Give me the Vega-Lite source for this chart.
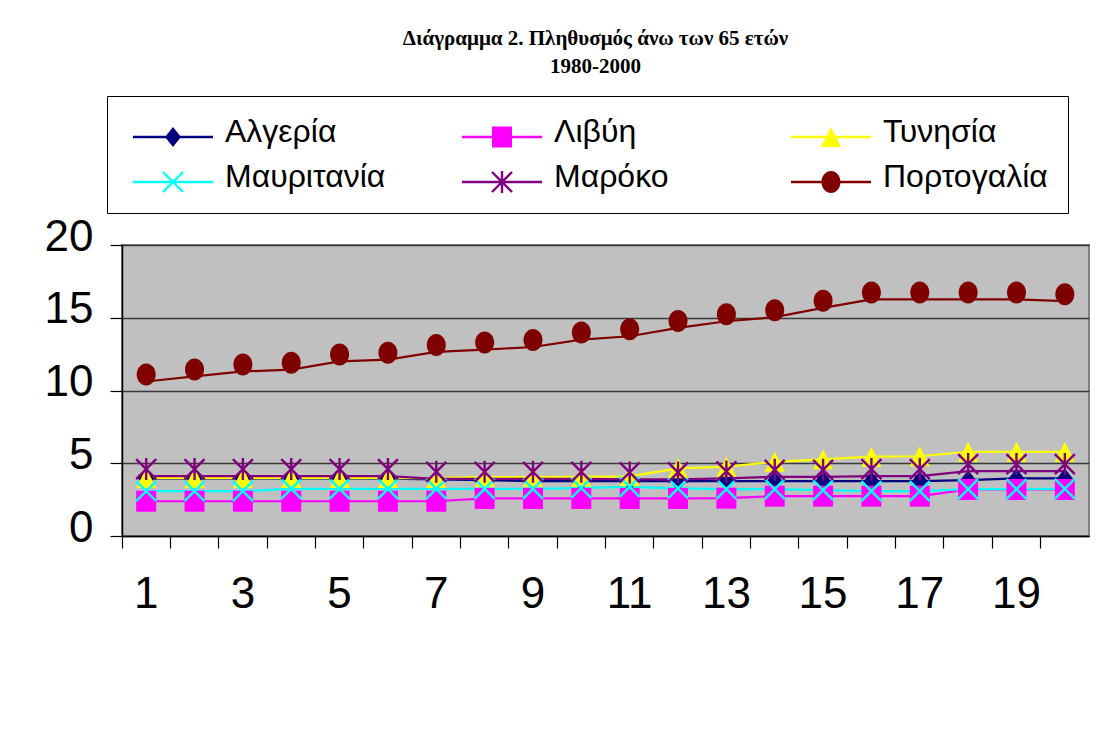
{
  "$schema": "https://vega.github.io/schema/vega-lite/v6.json",
  "autosize": {"type": "none"},
  "width": 967,
  "height": 291,
  "padding": {"left": 122, "top": 245, "right": 17, "bottom": 208},
  "background": "white",
  "title": {
    "text": ["Διάγραμμα 2. Πληθυσμός άνω των 65 ετών", "1980-2000"],
    "font": "Liberation Serif",
    "fontSize": 21,
    "fontWeight": "bold",
    "color": "#000000",
    "anchor": "middle",
    "frame": "group",
    "baseline": "alphabetic",
    "lineHeight": 28,
    "offset": 22,
    "dx": -10,
    "dy": 20
  },
  "config": {
    "view": {"fill": "#C0C0C0", "stroke": "#808080", "strokeWidth": 2},
    "axis": {
      "labelFont": "Liberation Sans",
      "labelFontSize": 44,
      "labelColor": "#000000",
      "domainColor": "#000000",
      "domainWidth": 1.5,
      "tickColor": "#000000",
      "tickWidth": 1.2,
      "tickSize": 12,
      "title": null
    },
    "legend": {
      "title": null,
      "orient": "none",
      "legendX": -15,
      "legendY": -149,
      "direction": "horizontal",
      "columns": 3,
      "gridAlign": "all",
      "columnPadding": 66,
      "rowPadding": 13,
      "padding": 20,
      "strokeColor": "#000000",
      "fillColor": "#FFFFFF",
      "labelFont": "Liberation Sans",
      "labelFontSize": 32,
      "labelColor": "#000000",
      "labelOffset": 66,
      "labelLimit": 400,
      "symbolSize": 400,
      "symbolStrokeWidth": 0,
      "symbolOpacity": 1
    }
  },
  "resolve": {"scale": {"shape": "independent", "color": "independent"}},
  "data": {
    "values": [
      {"t": 1, "c": "Αλγερία", "v": 3.95}, {"t": 2, "c": "Αλγερία", "v": 3.95}, {"t": 3, "c": "Αλγερία", "v": 3.95}, {"t": 4, "c": "Αλγερία", "v": 3.95}, {"t": 5, "c": "Αλγερία", "v": 3.95},
      {"t": 6, "c": "Αλγερία", "v": 3.95}, {"t": 7, "c": "Αλγερία", "v": 3.89}, {"t": 8, "c": "Αλγερία", "v": 3.84}, {"t": 9, "c": "Αλγερία", "v": 3.77}, {"t": 10, "c": "Αλγερία", "v": 3.77},
      {"t": 11, "c": "Αλγερία", "v": 3.77}, {"t": 12, "c": "Αλγερία", "v": 3.77}, {"t": 13, "c": "Αλγερία", "v": 3.77}, {"t": 14, "c": "Αλγερία", "v": 3.77}, {"t": 15, "c": "Αλγερία", "v": 3.77},
      {"t": 16, "c": "Αλγερία", "v": 3.77}, {"t": 17, "c": "Αλγερία", "v": 3.77}, {"t": 18, "c": "Αλγερία", "v": 3.84}, {"t": 19, "c": "Αλγερία", "v": 3.96}, {"t": 20, "c": "Αλγερία", "v": 3.96},
      {"t": 1, "c": "Λιβύη", "v": 2.39}, {"t": 2, "c": "Λιβύη", "v": 2.39}, {"t": 3, "c": "Λιβύη", "v": 2.39}, {"t": 4, "c": "Λιβύη", "v": 2.39}, {"t": 5, "c": "Λιβύη", "v": 2.39},
      {"t": 6, "c": "Λιβύη", "v": 2.39}, {"t": 7, "c": "Λιβύη", "v": 2.39}, {"t": 8, "c": "Λιβύη", "v": 2.58}, {"t": 9, "c": "Λιβύη", "v": 2.58}, {"t": 10, "c": "Λιβύη", "v": 2.58},
      {"t": 11, "c": "Λιβύη", "v": 2.58}, {"t": 12, "c": "Λιβύη", "v": 2.58}, {"t": 13, "c": "Λιβύη", "v": 2.6}, {"t": 14, "c": "Λιβύη", "v": 2.74}, {"t": 15, "c": "Λιβύη", "v": 2.74},
      {"t": 16, "c": "Λιβύη", "v": 2.74}, {"t": 17, "c": "Λιβύη", "v": 2.74}, {"t": 18, "c": "Λιβύη", "v": 3.2}, {"t": 19, "c": "Λιβύη", "v": 3.2}, {"t": 20, "c": "Λιβύη", "v": 3.2},
      {"t": 1, "c": "Τυνησία", "v": 3.98}, {"t": 2, "c": "Τυνησία", "v": 3.98}, {"t": 3, "c": "Τυνησία", "v": 3.98}, {"t": 4, "c": "Τυνησία", "v": 3.98}, {"t": 5, "c": "Τυνησία", "v": 3.98},
      {"t": 6, "c": "Τυνησία", "v": 3.98}, {"t": 7, "c": "Τυνησία", "v": 3.98}, {"t": 8, "c": "Τυνησία", "v": 4.05}, {"t": 9, "c": "Τυνησία", "v": 4.05}, {"t": 10, "c": "Τυνησία", "v": 4.07},
      {"t": 11, "c": "Τυνησία", "v": 4.1}, {"t": 12, "c": "Τυνησία", "v": 4.65}, {"t": 13, "c": "Τυνησία", "v": 4.76}, {"t": 14, "c": "Τυνησία", "v": 5.1}, {"t": 15, "c": "Τυνησία", "v": 5.27},
      {"t": 16, "c": "Τυνησία", "v": 5.45}, {"t": 17, "c": "Τυνησία", "v": 5.48}, {"t": 18, "c": "Τυνησία", "v": 5.79}, {"t": 19, "c": "Τυνησία", "v": 5.79}, {"t": 20, "c": "Τυνησία", "v": 5.79},
      {"t": 1, "c": "Μαυριτανία", "v": 3.08}, {"t": 2, "c": "Μαυριτανία", "v": 3.08}, {"t": 3, "c": "Μαυριτανία", "v": 3.08}, {"t": 4, "c": "Μαυριτανία", "v": 3.24}, {"t": 5, "c": "Μαυριτανία", "v": 3.24},
      {"t": 6, "c": "Μαυριτανία", "v": 3.24}, {"t": 7, "c": "Μαυριτανία", "v": 3.24}, {"t": 8, "c": "Μαυριτανία", "v": 3.24}, {"t": 9, "c": "Μαυριτανία", "v": 3.24}, {"t": 10, "c": "Μαυριτανία", "v": 3.3},
      {"t": 11, "c": "Μαυριτανία", "v": 3.38}, {"t": 12, "c": "Μαυριτανία", "v": 3.27}, {"t": 13, "c": "Μαυριτανία", "v": 3.22}, {"t": 14, "c": "Μαυριτανία", "v": 3.22}, {"t": 15, "c": "Μαυριτανία", "v": 3.15},
      {"t": 16, "c": "Μαυριτανία", "v": 3.08}, {"t": 17, "c": "Μαυριτανία", "v": 3.08}, {"t": 18, "c": "Μαυριτανία", "v": 3.22}, {"t": 19, "c": "Μαυριτανία", "v": 3.22}, {"t": 20, "c": "Μαυριτανία", "v": 3.24},
      {"t": 1, "c": "Μαρόκο", "v": 4.12}, {"t": 2, "c": "Μαρόκο", "v": 4.12}, {"t": 3, "c": "Μαρόκο", "v": 4.12}, {"t": 4, "c": "Μαρόκο", "v": 4.12}, {"t": 5, "c": "Μαρόκο", "v": 4.12},
      {"t": 6, "c": "Μαρόκο", "v": 4.12}, {"t": 7, "c": "Μαρόκο", "v": 3.93}, {"t": 8, "c": "Μαρόκο", "v": 3.93}, {"t": 9, "c": "Μαρόκο", "v": 3.93}, {"t": 10, "c": "Μαρόκο", "v": 3.93},
      {"t": 11, "c": "Μαρόκο", "v": 3.89}, {"t": 12, "c": "Μαρόκο", "v": 3.89}, {"t": 13, "c": "Μαρόκο", "v": 3.96}, {"t": 14, "c": "Μαρόκο", "v": 4.07}, {"t": 15, "c": "Μαρόκο", "v": 4.07},
      {"t": 16, "c": "Μαρόκο", "v": 4.12}, {"t": 17, "c": "Μαρόκο", "v": 4.12}, {"t": 18, "c": "Μαρόκο", "v": 4.46}, {"t": 19, "c": "Μαρόκο", "v": 4.46}, {"t": 20, "c": "Μαρόκο", "v": 4.46},
      {"t": 1, "c": "Πορτογαλία", "v": 10.62}, {"t": 2, "c": "Πορτογαλία", "v": 10.97}, {"t": 3, "c": "Πορτογαλία", "v": 11.31}, {"t": 4, "c": "Πορτογαλία", "v": 11.43}, {"t": 5, "c": "Πορτογαλία", "v": 12.0},
      {"t": 6, "c": "Πορτογαλία", "v": 12.12}, {"t": 7, "c": "Πορτογαλία", "v": 12.65}, {"t": 8, "c": "Πορτογαλία", "v": 12.81}, {"t": 9, "c": "Πορτογαλία", "v": 12.99}, {"t": 10, "c": "Πορτογαλία", "v": 13.5},
      {"t": 11, "c": "Πορτογαλία", "v": 13.73}, {"t": 12, "c": "Πορτογαλία", "v": 14.3}, {"t": 13, "c": "Πορτογαλία", "v": 14.76}, {"t": 14, "c": "Πορτογαλία", "v": 15.04}, {"t": 15, "c": "Πορτογαλία", "v": 15.68},
      {"t": 16, "c": "Πορτογαλία", "v": 16.26}, {"t": 17, "c": "Πορτογαλία", "v": 16.26}, {"t": 18, "c": "Πορτογαλία", "v": 16.26}, {"t": 19, "c": "Πορτογαλία", "v": 16.26}, {"t": 20, "c": "Πορτογαλία", "v": 16.14}
    ]
  },
  "encoding": {
    "x": {
      "field": "t",
      "type": "ordinal",
      "sort": null,
      "scale": {"type": "band", "paddingInner": 0, "paddingOuter": 0},
      "axis": {
        "bandPosition": 0,
        "labelAngle": 0,
        "labelPadding": 24,
        "labelExpr": "datum.value % 2 === 1 ? datum.label : ''",
        "grid": false
      }
    },
    "y": {
      "field": "v",
      "type": "quantitative",
      "scale": {"domain": [0, 20], "nice": false, "zero": true},
      "axis": {
        "values": [0, 5, 10, 15, 20],
        "grid": true,
        "gridColor": "#3a3a3a",
        "gridWidth": 1.5,
        "labelPadding": 17,
        "labelOffset": -8,
        "labelFlush": false
      }
    },
    "color": {
      "field": "c",
      "type": "nominal",
      "legend": null,
      "scale": {
        "domain": ["Αλγερία", "Λιβύη", "Τυνησία", "Μαυριτανία", "Μαρόκο", "Πορτογαλία"],
        "range": ["#000080", "#FF00FF", "#FFFF00", "#00FFFF", "#800080", "#800000"]
      }
    }
  },
  "layer": [
    {
      "mark": {"type": "line", "strokeWidth": 2.2},
      "encoding": {
        "detail": {"field": "c"}
      }
    },
    {
      "transform": [{"filter": "datum.c !== 'Πορτογαλία' && datum.c !== 'Μαρόκο'"}],
      "mark": {"type": "point", "filled": true, "opacity": 1, "size": 400, "strokeWidth": 0},
      "encoding": {
        "shape": {
          "field": "c",
          "type": "nominal",
          "legend": null,
          "scale": {
            "domain": ["Αλγερία", "Λιβύη", "Τυνησία", "Μαυριτανία", "Μαρόκο", "Πορτογαλία"],
            "range": [
              "M0,-1L0.8,0L0,1L-0.8,0Z",
              "M-1,-1.05H1V1.05H-1Z",
              "M0,-1L1,1H-1Z",
              "M-0.915,-1.085L1.085,0.915L0.915,1.085L-1.085,-0.915ZM-1.085,0.915L0.915,-1.085L1.085,-0.915L-0.915,1.085Z",
              "M-0.915,-1.085L1.085,0.915L0.915,1.085L-1.085,-0.915ZM-1.085,0.915L0.915,-1.085L1.085,-0.915L-0.915,1.085ZM-0.12,-1.1H0.12V1.1H-0.12Z",
              "M-0.95,0A0.95,1.1 0 1,1 0.95,0A0.95,1.1 0 1,1 -0.95,0Z"
            ]
          }
        }
      }
    },
    {
      "transform": [{"filter": "datum.c === 'Πορτογαλία' || datum.c === 'Μαρόκο'"}],
      "mark": {"type": "point", "filled": true, "opacity": 1, "size": 400, "strokeWidth": 0, "yOffset": -7},
      "encoding": {
        "shape": {
          "field": "c",
          "type": "nominal",
          "legend": null,
          "scale": {
            "domain": ["Αλγερία", "Λιβύη", "Τυνησία", "Μαυριτανία", "Μαρόκο", "Πορτογαλία"],
            "range": [
              "M0,-1L0.8,0L0,1L-0.8,0Z",
              "M-1,-1.05H1V1.05H-1Z",
              "M0,-1L1,1H-1Z",
              "M-0.915,-1.085L1.085,0.915L0.915,1.085L-1.085,-0.915ZM-1.085,0.915L0.915,-1.085L1.085,-0.915L-0.915,1.085Z",
              "M-0.915,-1.085L1.085,0.915L0.915,1.085L-1.085,-0.915ZM-1.085,0.915L0.915,-1.085L1.085,-0.915L-0.915,1.085ZM-0.12,-1.1H0.12V1.1H-0.12Z",
              "M-0.95,0A0.95,1.1 0 1,1 0.95,0A0.95,1.1 0 1,1 -0.95,0Z"
            ]
          }
        }
      }
    },
    {
      "transform": [{"filter": "datum.t === 1"}],
      "mark": {"type": "point", "filled": true, "opacity": 0, "size": 400, "strokeWidth": 0},
      "encoding": {
        "color": {
          "field": "c",
          "type": "nominal",
          "legend": {},
          "scale": {
            "domain": ["Αλγερία", "Λιβύη", "Τυνησία", "Μαυριτανία", "Μαρόκο", "Πορτογαλία"],
            "range": ["#000080", "#FF00FF", "#FFFF00", "#00FFFF", "#800080", "#800000"]
          }
        },
        "shape": {
          "field": "c",
          "type": "nominal",
          "legend": {},
          "scale": {
            "domain": ["Αλγερία", "Λιβύη", "Τυνησία", "Μαυριτανία", "Μαρόκο", "Πορτογαλία"],
            "range": [
              "M-1,0.38H7V0.62H-1ZM3,-0.5L3.8,0.5L3,1.5L2.2,0.5Z",
              "M-1,0.38H7V0.62H-1ZM2,-0.55H4V1.55H2Z",
              "M-1,0.38H7V0.62H-1ZM3,-0.5L4,1.5H2Z",
              "M-1,0.38H7V0.62H-1ZM2.085,-0.585L4.085,1.415L3.915,1.585L1.915,-0.415ZM1.915,1.415L3.915,-0.585L4.085,-0.415L2.085,1.585Z",
              "M-1,0.38H7V0.62H-1ZM2.085,-0.585L4.085,1.415L3.915,1.585L1.915,-0.415ZM1.915,1.415L3.915,-0.585L4.085,-0.415L2.085,1.585ZM2.88,-0.6H3.12V1.6H2.88Z",
              "M-1,0.38H7V0.62H-1ZM2.05,0.5A0.95,1.1 0 1,1 3.95,0.5A0.95,1.1 0 1,1 2.05,0.5Z"
            ]
          }
        }
      }
    }
  ]
}
